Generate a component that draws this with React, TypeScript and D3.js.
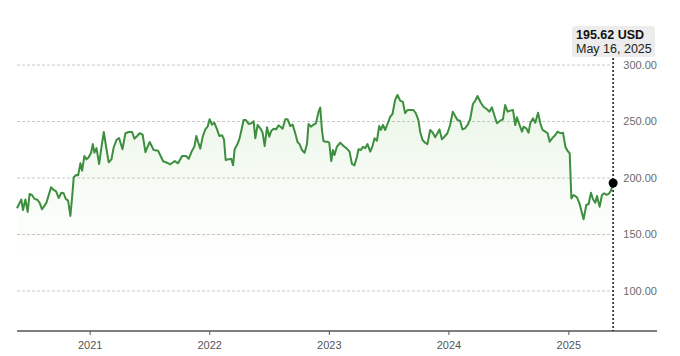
import React from "react";
import * as d3 from "d3";

// Decimal-year dates (weekly-ish closes)
const dateYears: number[] = [
  2020.390, 2020.426, 2020.440, 2020.460, 2020.479, 2020.495, 2020.515, 2020.535, 2020.562, 2020.579,
  2020.599, 2020.635, 2020.674, 2020.696, 2020.716, 2020.738, 2020.760, 2020.779, 2020.796, 2020.816,
  2020.835, 2020.850, 2020.863, 2020.883, 2020.900, 2020.919, 2020.933, 2020.952, 2020.969, 2020.988,
  2021.008, 2021.022, 2021.036, 2021.053, 2021.075, 2021.092, 2021.114, 2021.134, 2021.155, 2021.178,
  2021.197, 2021.220, 2021.242, 2021.270, 2021.295, 2021.322, 2021.351, 2021.370, 2021.393, 2021.414,
  2021.439, 2021.462, 2021.498, 2021.531, 2021.568, 2021.610, 2021.643, 2021.671, 2021.707, 2021.735,
  2021.769, 2021.802, 2021.824, 2021.852, 2021.871, 2021.888, 2021.902, 2021.921, 2021.941, 2021.963,
  2021.982, 2021.999, 2022.019, 2022.038, 2022.061, 2022.080, 2022.103, 2022.119, 2022.133, 2022.158,
  2022.180, 2022.195, 2022.208, 2022.228, 2022.247, 2022.264, 2022.283, 2022.303, 2022.325, 2022.348,
  2022.367, 2022.381, 2022.400, 2022.423, 2022.442, 2022.459, 2022.479, 2022.498, 2022.515, 2022.534,
  2022.554, 2022.576, 2022.596, 2022.609, 2022.632, 2022.651, 2022.673, 2022.693, 2022.715, 2022.734,
  2022.751, 2022.771, 2022.793, 2022.813, 2022.826, 2022.846, 2022.868, 2022.888, 2022.910, 2022.924,
  2022.938, 2022.951, 2022.966, 2022.985, 2022.999, 2023.016, 2023.030, 2023.043, 2023.063, 2023.091,
  2023.119, 2023.147, 2023.169, 2023.189, 2023.210, 2023.231, 2023.244, 2023.264, 2023.281, 2023.300,
  2023.319, 2023.342, 2023.361, 2023.378, 2023.398, 2023.417, 2023.431, 2023.448, 2023.467, 2023.486,
  2023.509, 2023.528, 2023.550, 2023.570, 2023.592, 2023.615, 2023.634, 2023.653, 2023.676, 2023.703,
  2023.723, 2023.745, 2023.759, 2023.779, 2023.801, 2023.820, 2023.843, 2023.865, 2023.885, 2023.904,
  2023.921, 2023.941, 2023.962, 2023.987, 2024.010, 2024.032, 2024.052, 2024.071, 2024.093, 2024.113,
  2024.135, 2024.158, 2024.177, 2024.200, 2024.219, 2024.238, 2024.266, 2024.288, 2024.317, 2024.338,
  2024.358, 2024.378, 2024.400, 2024.428, 2024.450, 2024.469, 2024.489, 2024.511, 2024.534, 2024.553,
  2024.567, 2024.589, 2024.609, 2024.622, 2024.645, 2024.664, 2024.678, 2024.701, 2024.720, 2024.743,
  2024.762, 2024.781, 2024.804, 2024.823, 2024.840, 2024.860, 2024.887, 2024.906, 2024.929, 2024.951,
  2024.971, 2024.990, 2025.007, 2025.021, 2025.040, 2025.068, 2025.090, 2025.110, 2025.123, 2025.146,
  2025.165, 2025.185, 2025.202, 2025.221, 2025.235, 2025.257, 2025.277, 2025.296, 2025.313, 2025.332,
  2025.352, 2025.370,
];

const closes: number[] = [
  173.2, 181.0, 171.7, 181.0, 170.0, 185.8, 185.0, 181.7, 180.5, 178.0,
  172.3, 178.0, 191.8, 189.4, 188.2, 182.3, 187.0, 186.5, 181.7, 180.0,
  166.4, 183.5, 200.6, 202.7, 202.4, 213.0, 206.5, 219.5, 216.5, 218.3,
  222.4, 230.0, 222.4, 226.5, 212.4, 225.4, 240.7, 227.2, 213.9, 216.5,
  227.2, 233.6, 235.4, 225.4, 239.6, 240.7, 240.7, 234.8, 237.2, 239.6,
  238.3, 223.0, 231.9, 224.8, 224.2, 214.8, 213.5, 212.1, 215.0, 213.0,
  219.5, 219.5, 217.0, 224.2, 227.7, 237.2, 232.1, 226.0, 236.5, 243.0,
  245.4, 252.0, 247.2, 248.9, 243.0, 237.2, 237.8, 234.2, 216.0, 216.5,
  217.0, 211.2, 225.4, 229.2, 234.2, 241.9, 251.3, 251.3, 247.8, 248.4,
  250.2, 235.1, 246.9, 244.0, 240.1, 228.3, 244.9, 236.5, 241.9, 243.6,
  243.0, 246.6, 244.9, 243.6, 252.0, 252.0, 246.0, 247.2, 239.6, 231.9,
  230.0, 224.8, 222.4, 230.0, 247.8, 245.4, 247.2, 248.4, 258.7, 262.3,
  242.5, 232.7, 232.1, 232.1, 231.2, 215.0, 224.8, 220.4, 227.7, 231.2,
  228.3, 226.0, 223.3, 212.4, 211.2, 218.8, 225.4, 224.8, 227.7, 226.3,
  230.0, 223.3, 228.3, 235.1, 233.0, 246.0, 242.5, 246.9, 242.5, 247.8,
  254.2, 256.6, 269.0, 273.5, 268.4, 267.3, 257.3, 260.2, 260.2, 260.2,
  257.3, 251.3, 241.0, 233.6, 231.2, 230.0, 242.5, 240.1, 236.0, 239.6,
  243.0, 234.2, 236.5, 239.6, 246.9, 258.7, 254.9, 251.3, 250.7, 243.0,
  244.0, 247.5, 252.0, 265.5, 268.4, 272.6, 266.6, 263.1, 260.8, 258.7,
  262.6, 255.8, 248.4, 250.7, 251.9, 264.6, 258.7, 259.6, 260.2, 246.9,
  253.7, 246.9, 241.0, 245.4, 244.0, 240.1, 248.4, 252.8, 248.9, 257.8,
  248.4, 242.5, 241.0, 239.6, 232.1, 235.1, 238.0, 241.0, 239.6, 240.1,
  227.7, 223.9, 221.9, 182.0, 185.0, 182.9, 177.0, 168.8, 163.5, 176.1,
  177.0, 187.0, 181.2, 178.1, 184.1, 174.6, 185.0, 186.5, 185.2, 185.8,
  188.8, 195.62,
];

const yTicks: number[] = [100, 150, 200, 250, 300];
const xTickYears: number[] = [2021, 2022, 2023, 2024, 2025];
const lastLabelValue = "195.62 USD";
const lastLabelDate = "May 16, 2025";

function yearToDate(t: number): Date {
  const y = Math.floor(t);
  const a = new Date(y, 0, 1).getTime();
  const b = new Date(y + 1, 0, 1).getTime();
  return new Date(a + (t - y) * (b - a));
}

export default function App() {
  const W = 680;
  const H = 356;
  const axisY = 331;
  const data = dateYears.map((t, i) => ({ date: yearToDate(t), value: closes[i] }));

  const x = d3
    .scaleTime()
    .domain([yearToDate(2020.39), yearToDate(2025.737)])
    .range([17, 657]);
  const y = d3.scaleLinear().domain([100, 300]).range([291, 65]);

  const line = d3
    .line<{ date: Date; value: number }>()
    .x((d) => x(d.date))
    .y((d) => y(d.value));
  const area = d3
    .area<{ date: Date; value: number }>()
    .x((d) => x(d.date))
    .y0(axisY)
    .y1((d) => y(d.value));

  const last = data[data.length - 1];
  const lx = x(last.date);
  const ly = y(last.value);
  const font = "'Liberation Sans', Arial, Helvetica, sans-serif";

  return (
    <svg
      width={W}
      height={H}
      style={{ position: "absolute", left: 0, top: 0, background: "#fff" }}
      fontFamily={font}
    >
      <defs>
        <linearGradient id="fillG" gradientUnits="userSpaceOnUse" x1="0" y1={y(275)} x2="0" y2={y(130)}>
          <stop offset="0%" stopColor="#6fbf5a" stopOpacity={0.14} />
          <stop offset="100%" stopColor="#6fbf5a" stopOpacity={0} />
        </linearGradient>
      </defs>

      {yTicks.map((t) => (
        <g key={t}>
          <line
            x1={17}
            x2={lx}
            y1={y(t)}
            y2={y(t)}
            stroke="#c8c8c8"
            strokeWidth={1}
            strokeDasharray="3,2"
          />
          <text x={657} y={y(t)} dy="0.35em" textAnchor="end" fontSize={11} fill="#6b6b6b">
            {t.toFixed(2)}
          </text>
        </g>
      ))}

      <path d={area(data) || ""} fill="url(#fillG)" />
      <path d={line(data) || ""} fill="none" stroke="#3d8f3f" strokeWidth={2} strokeLinejoin="round" />

      <line x1={17} x2={657} y1={axisY} y2={axisY} stroke="#555" strokeWidth={1.5} />
      {xTickYears.map((yr) => {
        const px = x(new Date(yr, 0, 1));
        return (
          <g key={yr}>
            <line x1={px} x2={px} y1={axisY} y2={axisY + 4} stroke="#555" strokeWidth={1} />
            <text x={px} y={axisY + 18} textAnchor="middle" fontSize={11} fill="#555">
              {yr}
            </text>
          </g>
        );
      })}

      <line x1={lx} x2={lx} y1={58} y2={axisY} stroke="#111" strokeWidth={1.5} strokeDasharray="2,2" />
      <circle cx={lx} cy={ly} r={4.5} fill="#000" />

      <rect x={572} y={26} width={83} height={31} rx={3} fill="#ececec" />
      <text x={576} y={38.5} fontSize={12.5} fontWeight="bold" fill="#111">
        {lastLabelValue}
      </text>
      <text x={576} y={53} fontSize={12.5} fill="#222">
        {lastLabelDate}
      </text>
    </svg>
  );
}
